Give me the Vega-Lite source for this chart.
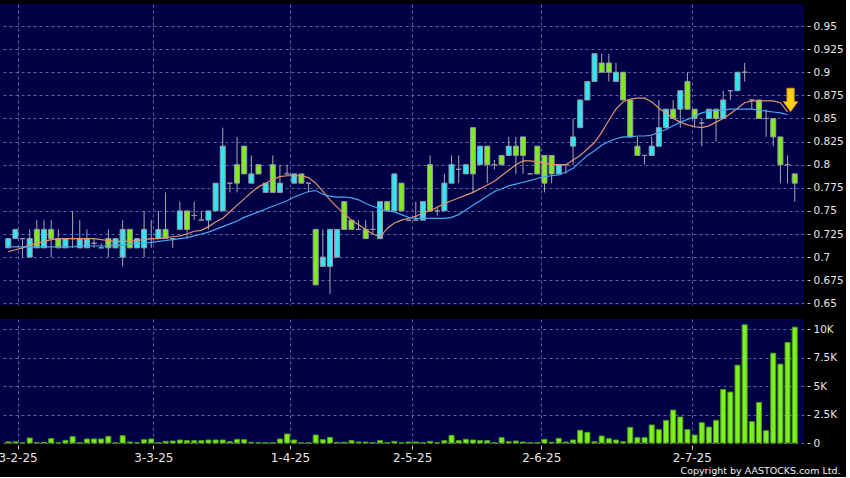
{
  "$schema": "https://vega.github.io/schema/vega-lite/v6.json",
  "background": "#000000",
  "padding": {"left": -3, "top": 4, "right": 2, "bottom": 2},
  "spacing": 10,
  "config": {
    "view": {"fill": "#000046", "stroke": null},
    "axis": {
      "gridColor": "#6a6a9e",
      "gridDash": [3, 3],
      "gridWidth": 1,
      "gridOpacity": 0.9,
      "labelColor": "#e6e6e6",
      "labelFont": "DejaVu Sans",
      "tickColor": "#c8c8c8",
      "domain": false,
      "labelOverlap": false,
      "title": null
    }
  },
  "datasets": {
    "k": [
      {"i":0,"o":0.71,"h":0.72,"l":0.71,"c":0.72,"v":100},
      {"i":1,"o":0.72,"h":0.73,"l":0.72,"c":0.73,"v":100},
      {"i":2,"o":0.72,"h":0.72,"l":0.70,"c":0.72,"v":20},
      {"i":3,"o":0.70,"h":0.73,"l":0.70,"c":0.72,"v":440},
      {"i":4,"o":0.73,"h":0.74,"l":0.71,"c":0.71,"v":20},
      {"i":5,"o":0.71,"h":0.74,"l":0.71,"c":0.73,"v":60},
      {"i":6,"o":0.73,"h":0.74,"l":0.70,"c":0.72,"v":380},
      {"i":7,"o":0.72,"h":0.73,"l":0.71,"c":0.71,"v":20},
      {"i":8,"o":0.71,"h":0.72,"l":0.71,"c":0.72,"v":230},
      {"i":9,"o":0.72,"h":0.75,"l":0.71,"c":0.72,"v":555},
      {"i":10,"o":0.71,"h":0.74,"l":0.71,"c":0.72,"v":20},
      {"i":11,"o":0.71,"h":0.73,"l":0.71,"c":0.72,"v":350},
      {"i":12,"o":0.715,"h":0.72,"l":0.71,"c":0.715,"v":350},
      {"i":13,"o":0.71,"h":0.715,"l":0.71,"c":0.71,"v":350},
      {"i":14,"o":0.72,"h":0.73,"l":0.70,"c":0.71,"v":585},
      {"i":15,"o":0.71,"h":0.72,"l":0.71,"c":0.72,"v":20},
      {"i":16,"o":0.70,"h":0.74,"l":0.69,"c":0.73,"v":640},
      {"i":17,"o":0.73,"h":0.73,"l":0.71,"c":0.71,"v":90},
      {"i":18,"o":0.71,"h":0.72,"l":0.71,"c":0.72,"v":20},
      {"i":19,"o":0.71,"h":0.75,"l":0.70,"c":0.73,"v":290},
      {"i":20,"o":0.72,"h":0.74,"l":0.71,"c":0.72,"v":350},
      {"i":21,"o":0.72,"h":0.75,"l":0.72,"c":0.73,"v":20},
      {"i":22,"o":0.73,"h":0.77,"l":0.72,"c":0.72,"v":146},
      {"i":23,"o":0.72,"h":0.72,"l":0.71,"c":0.72,"v":175},
      {"i":24,"o":0.73,"h":0.76,"l":0.73,"c":0.75,"v":263},
      {"i":25,"o":0.75,"h":0.75,"l":0.72,"c":0.73,"v":205},
      {"i":26,"o":0.745,"h":0.76,"l":0.74,"c":0.745,"v":205},
      {"i":27,"o":0.74,"h":0.75,"l":0.74,"c":0.74,"v":205},
      {"i":28,"o":0.74,"h":0.75,"l":0.73,"c":0.75,"v":263},
      {"i":29,"o":0.75,"h":0.78,"l":0.75,"c":0.78,"v":263},
      {"i":30,"o":0.75,"h":0.84,"l":0.75,"c":0.82,"v":263},
      {"i":31,"o":0.78,"h":0.78,"l":0.77,"c":0.78,"v":117},
      {"i":32,"o":0.80,"h":0.83,"l":0.77,"c":0.78,"v":320},
      {"i":33,"o":0.82,"h":0.82,"l":0.79,"c":0.79,"v":290},
      {"i":34,"o":0.78,"h":0.81,"l":0.78,"c":0.79,"v":60},
      {"i":35,"o":0.80,"h":0.80,"l":0.79,"c":0.79,"v":20},
      {"i":36,"o":0.77,"h":0.78,"l":0.77,"c":0.78,"v":10},
      {"i":37,"o":0.80,"h":0.81,"l":0.77,"c":0.77,"v":10},
      {"i":38,"o":0.77,"h":0.80,"l":0.77,"c":0.78,"v":350},
      {"i":39,"o":0.79,"h":0.80,"l":0.79,"c":0.79,"v":790},
      {"i":40,"o":0.78,"h":0.79,"l":0.78,"c":0.79,"v":263},
      {"i":41,"o":0.79,"h":0.79,"l":0.78,"c":0.78,"v":10},
      {"i":42,"o":0.78,"h":0.78,"l":0.77,"c":0.78,"v":10},
      {"i":43,"o":0.73,"h":0.73,"l":0.67,"c":0.67,"v":700},
      {"i":44,"o":0.69,"h":0.73,"l":0.69,"c":0.70,"v":290},
      {"i":45,"o":0.69,"h":0.73,"l":0.66,"c":0.73,"v":500},
      {"i":46,"o":0.70,"h":0.73,"l":0.70,"c":0.73,"v":60},
      {"i":47,"o":0.76,"h":0.76,"l":0.73,"c":0.73,"v":60},
      {"i":48,"o":0.74,"h":0.74,"l":0.73,"c":0.73,"v":205},
      {"i":49,"o":0.73,"h":0.74,"l":0.73,"c":0.73,"v":90},
      {"i":50,"o":0.73,"h":0.74,"l":0.72,"c":0.72,"v":90},
      {"i":51,"o":0.73,"h":0.75,"l":0.725,"c":0.73,"v":20},
      {"i":52,"o":0.72,"h":0.76,"l":0.72,"c":0.76,"v":205},
      {"i":53,"o":0.76,"h":0.76,"l":0.75,"c":0.75,"v":20},
      {"i":54,"o":0.75,"h":0.79,"l":0.75,"c":0.79,"v":146},
      {"i":55,"o":0.78,"h":0.78,"l":0.75,"c":0.75,"v":20},
      {"i":56,"o":0.74,"h":0.74,"l":0.74,"c":0.74,"v":90},
      {"i":57,"o":0.74,"h":0.76,"l":0.74,"c":0.74,"v":90},
      {"i":58,"o":0.74,"h":0.76,"l":0.74,"c":0.76,"v":30},
      {"i":59,"o":0.80,"h":0.81,"l":0.75,"c":0.75,"v":146},
      {"i":60,"o":0.75,"h":0.755,"l":0.745,"c":0.75,"v":20},
      {"i":61,"o":0.75,"h":0.79,"l":0.75,"c":0.78,"v":205},
      {"i":62,"o":0.78,"h":0.81,"l":0.78,"c":0.80,"v":670},
      {"i":63,"o":0.795,"h":0.81,"l":0.78,"c":0.795,"v":205},
      {"i":64,"o":0.79,"h":0.80,"l":0.79,"c":0.80,"v":320},
      {"i":65,"o":0.84,"h":0.84,"l":0.77,"c":0.79,"v":263},
      {"i":66,"o":0.80,"h":0.82,"l":0.80,"c":0.82,"v":205},
      {"i":67,"o":0.82,"h":0.82,"l":0.78,"c":0.80,"v":205},
      {"i":68,"o":0.80,"h":0.805,"l":0.795,"c":0.80,"v":20},
      {"i":69,"o":0.81,"h":0.81,"l":0.80,"c":0.80,"v":470},
      {"i":70,"o":0.81,"h":0.83,"l":0.81,"c":0.82,"v":117},
      {"i":71,"o":0.82,"h":0.83,"l":0.79,"c":0.81,"v":175},
      {"i":72,"o":0.83,"h":0.83,"l":0.79,"c":0.81,"v":90},
      {"i":73,"o":0.79,"h":0.79,"l":0.79,"c":0.79,"v":20},
      {"i":74,"o":0.82,"h":0.82,"l":0.79,"c":0.79,"v":20},
      {"i":75,"o":0.81,"h":0.81,"l":0.77,"c":0.78,"v":320},
      {"i":76,"o":0.81,"h":0.81,"l":0.78,"c":0.79,"v":60},
      {"i":77,"o":0.79,"h":0.80,"l":0.79,"c":0.80,"v":410},
      {"i":78,"o":0.80,"h":0.80,"l":0.79,"c":0.80,"v":90},
      {"i":79,"o":0.82,"h":0.85,"l":0.80,"c":0.83,"v":263},
      {"i":80,"o":0.84,"h":0.87,"l":0.84,"c":0.87,"v":1110},
      {"i":81,"o":0.87,"h":0.89,"l":0.87,"c":0.89,"v":935},
      {"i":82,"o":0.89,"h":0.92,"l":0.89,"c":0.92,"v":117},
      {"i":83,"o":0.91,"h":0.92,"l":0.90,"c":0.90,"v":613},
      {"i":84,"o":0.91,"h":0.92,"l":0.89,"c":0.90,"v":380},
      {"i":85,"o":0.89,"h":0.91,"l":0.89,"c":0.90,"v":263},
      {"i":86,"o":0.90,"h":0.90,"l":0.87,"c":0.87,"v":117},
      {"i":87,"o":0.87,"h":0.87,"l":0.83,"c":0.83,"v":1370},
      {"i":88,"o":0.82,"h":0.83,"l":0.81,"c":0.81,"v":470},
      {"i":89,"o":0.81,"h":0.81,"l":0.80,"c":0.81,"v":470},
      {"i":90,"o":0.81,"h":0.83,"l":0.81,"c":0.82,"v":1580},
      {"i":91,"o":0.82,"h":0.87,"l":0.82,"c":0.84,"v":1170},
      {"i":92,"o":0.84,"h":0.86,"l":0.84,"c":0.86,"v":1990},
      {"i":93,"o":0.86,"h":0.87,"l":0.85,"c":0.85,"v":2890},
      {"i":94,"o":0.86,"h":0.88,"l":0.84,"c":0.88,"v":2280},
      {"i":95,"o":0.89,"h":0.90,"l":0.86,"c":0.86,"v":1170},
      {"i":96,"o":0.86,"h":0.86,"l":0.84,"c":0.85,"v":700},
      {"i":97,"o":0.845,"h":0.85,"l":0.82,"c":0.845,"v":1780},
      {"i":98,"o":0.85,"h":0.86,"l":0.85,"c":0.86,"v":1400},
      {"i":99,"o":0.86,"h":0.86,"l":0.825,"c":0.85,"v":1990},
      {"i":100,"o":0.85,"h":0.88,"l":0.85,"c":0.87,"v":4700},
      {"i":101,"o":0.88,"h":0.88,"l":0.87,"c":0.88,"v":4470},
      {"i":102,"o":0.88,"h":0.90,"l":0.88,"c":0.90,"v":6830},
      {"i":103,"o":0.90,"h":0.91,"l":0.89,"c":0.90,"v":10370},
      {"i":104,"o":0.87,"h":0.87,"l":0.86,"c":0.87,"v":1870},
      {"i":105,"o":0.87,"h":0.87,"l":0.85,"c":0.85,"v":3560},
      {"i":106,"o":0.85,"h":0.86,"l":0.83,"c":0.85,"v":1080},
      {"i":107,"o":0.85,"h":0.85,"l":0.82,"c":0.83,"v":7880},
      {"i":108,"o":0.83,"h":0.83,"l":0.78,"c":0.80,"v":6920},
      {"i":109,"o":0.80,"h":0.81,"l":0.78,"c":0.80,"v":8820},
      {"i":110,"o":0.79,"h":0.79,"l":0.76,"c":0.78,"v":10160}
    ],
    "ma": [
      {"i":0,"a":0.706,"b":0.711},{"i":1,"a":0.708,"b":0.711},{"i":2,"a":0.710,"b":0.711},{"i":3,"a":0.713,"b":0.711},
      {"i":4,"a":0.715,"b":0.711},{"i":5,"a":0.717,"b":0.711},{"i":6,"a":0.719,"b":0.711},{"i":7,"a":0.720,"b":0.711},
      {"i":8,"a":0.720,"b":0.711},{"i":9,"a":0.720,"b":0.711},{"i":10,"a":0.720,"b":0.712},{"i":11,"a":0.720,"b":0.712},
      {"i":12,"a":0.720,"b":0.712},{"i":13,"a":0.719,"b":0.712},{"i":14,"a":0.718,"b":0.712},{"i":15,"a":0.717,"b":0.713},
      {"i":16,"a":0.717,"b":0.713},{"i":17,"a":0.717,"b":0.714},{"i":18,"a":0.718,"b":0.715},{"i":19,"a":0.719,"b":0.715},
      {"i":20,"a":0.720,"b":0.716},{"i":21,"a":0.720,"b":0.717},{"i":22,"a":0.721,"b":0.718},{"i":23,"a":0.722,"b":0.719},
      {"i":24,"a":0.723,"b":0.720},{"i":25,"a":0.725,"b":0.721},{"i":26,"a":0.728,"b":0.723},{"i":27,"a":0.729,"b":0.725},
      {"i":28,"a":0.733,"b":0.727},{"i":29,"a":0.738,"b":0.730},{"i":30,"a":0.742,"b":0.733},{"i":31,"a":0.749,"b":0.736},
      {"i":32,"a":0.756,"b":0.739},{"i":33,"a":0.763,"b":0.743},{"i":34,"a":0.770,"b":0.746},{"i":35,"a":0.776,"b":0.749},
      {"i":36,"a":0.780,"b":0.752},{"i":37,"a":0.784,"b":0.755},{"i":38,"a":0.787,"b":0.758},{"i":39,"a":0.788,"b":0.761},
      {"i":40,"a":0.788,"b":0.765},{"i":41,"a":0.788,"b":0.768},{"i":42,"a":0.786,"b":0.771},{"i":43,"a":0.780,"b":0.772},
      {"i":44,"a":0.771,"b":0.768},{"i":45,"a":0.762,"b":0.766},{"i":46,"a":0.754,"b":0.765},{"i":47,"a":0.747,"b":0.765},
      {"i":48,"a":0.740,"b":0.764},{"i":49,"a":0.735,"b":0.762},{"i":50,"a":0.730,"b":0.758},{"i":51,"a":0.725,"b":0.755},
      {"i":52,"a":0.722,"b":0.752},{"i":53,"a":0.731,"b":0.750},{"i":54,"a":0.737,"b":0.749},{"i":55,"a":0.740,"b":0.746},
      {"i":56,"a":0.742,"b":0.743},{"i":57,"a":0.744,"b":0.742},{"i":58,"a":0.748,"b":0.742},{"i":59,"a":0.750,"b":0.742},
      {"i":60,"a":0.754,"b":0.742},{"i":61,"a":0.758,"b":0.742},{"i":62,"a":0.761,"b":0.743},{"i":63,"a":0.764,"b":0.746},
      {"i":64,"a":0.767,"b":0.751},{"i":65,"a":0.770,"b":0.756},{"i":66,"a":0.774,"b":0.761},{"i":67,"a":0.778,"b":0.766},
      {"i":68,"a":0.782,"b":0.771},{"i":69,"a":0.788,"b":0.774},{"i":70,"a":0.794,"b":0.777},{"i":71,"a":0.800,"b":0.779},
      {"i":72,"a":0.804,"b":0.781},{"i":73,"a":0.804,"b":0.783},{"i":74,"a":0.803,"b":0.785},{"i":75,"a":0.802,"b":0.787},
      {"i":76,"a":0.800,"b":0.788},{"i":77,"a":0.800,"b":0.789},{"i":78,"a":0.800,"b":0.792},{"i":79,"a":0.805,"b":0.796},
      {"i":80,"a":0.810,"b":0.803},{"i":81,"a":0.817,"b":0.810},{"i":82,"a":0.824,"b":0.815},{"i":83,"a":0.835,"b":0.821},
      {"i":84,"a":0.848,"b":0.825},{"i":85,"a":0.860,"b":0.828},{"i":86,"a":0.868,"b":0.830},{"i":87,"a":0.871,"b":0.830},
      {"i":88,"a":0.872,"b":0.831},{"i":89,"a":0.872,"b":0.831},{"i":90,"a":0.868,"b":0.832},{"i":91,"a":0.861,"b":0.835},
      {"i":92,"a":0.856,"b":0.838},{"i":93,"a":0.850,"b":0.842},{"i":94,"a":0.846,"b":0.846},{"i":95,"a":0.843,"b":0.849},
      {"i":96,"a":0.841,"b":0.852},{"i":97,"a":0.840,"b":0.856},{"i":98,"a":0.842,"b":0.858},{"i":99,"a":0.846,"b":0.859},
      {"i":100,"a":0.850,"b":0.859},{"i":101,"a":0.855,"b":0.860},{"i":102,"a":0.861,"b":0.860},{"i":103,"a":0.867,"b":0.860},
      {"i":104,"a":0.869,"b":0.860},{"i":105,"a":0.869,"b":0.859},{"i":106,"a":0.869,"b":0.858},{"i":107,"a":0.869,"b":0.857},
      {"i":108,"a":0.867,"b":0.856},{"i":109,"a":0.857,"b":0.854}
    ],
    "arrow": [{"i":109.42,"p":0.870}]
  },
  "vconcat": [
    {
      "width": 804,
      "height": 301,
      "encoding": {
        "x": {
          "field": "i", "type": "quantitative",
          "scale": {"domain": [-0.456, 110.6], "nice": false, "zero": false},
          "axis": {"values": [1.3, 20.3, 39.4, 56.5, 74.55, 95.6], "tickCount": 6, "labels": false, "ticks": false, "grid": true}
        }
      },
      "layer": [
        {
          "data": {"name": "k"},
          "mark": {"type": "rule", "color": "#a8a8b0", "strokeWidth": 1},
          "encoding": {
            "y": {"field": "l", "type": "quantitative",
              "scale": {"domain": [0.6482, 0.9738], "nice": false, "zero": false},
              "axis": {"orient": "right", "values": [0.65,0.675,0.7,0.725,0.75,0.775,0.8,0.825,0.85,0.875,0.9,0.925,0.95],
                "tickCount": 13, "format": ".3~f", "grid": true, "tickSize": 3, "offset": 3, "labelPadding": 3, "labelFontSize": 10.5,
                "labelOverlap": false}},
            "y2": {"field": "h"}
          }
        },
        {
          "data": {"name": "k"},
          "mark": {"type": "bar", "size": 5, "stroke": "#9a9aa6", "strokeWidth": 1},
          "encoding": {
            "y": {"field": "o", "type": "quantitative"},
            "y2": {"field": "c"},
            "fill": {"condition": {"test": "datum.c > datum.o", "value": "#2FE6F2"}, "value": "#80EC1E"}
          }
        },
        {
          "data": {"name": "ma"},
          "mark": {"type": "line", "color": "#E0956A", "strokeWidth": 1.2},
          "encoding": {"y": {"field": "a", "type": "quantitative"}}
        },
        {
          "data": {"name": "ma"},
          "mark": {"type": "line", "color": "#44A8F0", "strokeWidth": 1.2},
          "encoding": {"y": {"field": "b", "type": "quantitative"}}
        },
        {
          "data": {"name": "arrow"},
          "mark": {"type": "point", "shape": "M-0.31,-1L0.31,-1L0.31,0.15L0.61,0.15L0,1L-0.61,0.15L-0.31,0.15Z", "size": 547, "filled": true, "fill": "#FFD21A", "stroke": "#E08A00", "strokeWidth": 1, "opacity": 1},
          "encoding": {"y": {"field": "p", "type": "quantitative"}}
        }
      ]
    },
    {
      "width": 804,
      "height": 124,
      "data": {"name": "k"},
      "mark": {"type": "bar", "size": 5, "fill": "#7EEF22", "stroke": "#4E9E12", "strokeWidth": 1},
      "encoding": {
        "x": {
          "field": "i", "type": "quantitative",
          "scale": {"domain": [-0.456, 110.6], "nice": false, "zero": false},
          "axis": {
            "values": [1.3, 20.3, 39.4, 56.5, 74.55, 95.6],
            "tickCount": 6,
            "labelExpr": "datum.value < 10 ? '3-2-25' : datum.value < 30 ? '3-3-25' : datum.value < 45 ? '1-4-25' : datum.value < 65 ? '2-5-25' : datum.value < 85 ? '2-6-25' : '2-7-25'",
            "grid": true, "tickSize": 4, "offset": 2, "labelPadding": 3, "labelFontSize": 12, "labelFlush": false,
            "title": "Copyright by AASTOCKS.com Ltd.",
            "titleFont": "DejaVu Sans", "titleFontSize": 9.5, "titleFontWeight": "normal", "titleColor": "#f0f0f0",
            "titleAnchor": "end", "titleAlign": "right", "titleX": 840, "titlePadding": 2
          }
        },
        "y": {
          "field": "v", "type": "quantitative",
          "scale": {"domain": [0, 10880], "nice": false},
          "axis": {"orient": "right", "values": [0, 2500, 5000, 7500, 10000], "tickCount": 5,
            "labelExpr": "datum.value == 0 ? '0' : (datum.value / 1000) + 'K'",
            "grid": true, "tickSize": 3, "offset": 3, "labelPadding": 3, "labelFontSize": 10.5, "labelOverlap": false}
        }
      }
    }
  ]
}
